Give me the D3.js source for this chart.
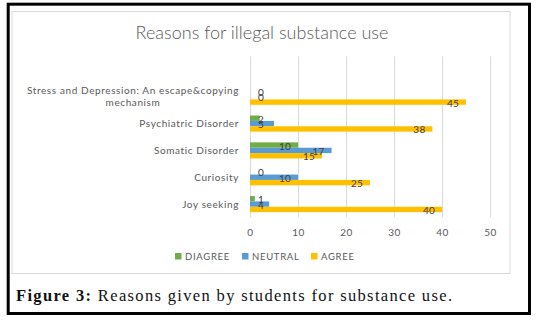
<!DOCTYPE html>
<html>
<head>
<meta charset="utf-8">
<script src="https://cdn.jsdelivr.net/npm/d3@7"></script>
<style>
  html, body { margin: 0; padding: 0; background: #fff; }
  svg { display: block; }
</style>
</head>
<body>
<svg id="chart" width="538" height="321"></svg>
<script>
// ---- data ----
const categories = [
  "Stress and Depression: An escape&copying mechanism",
  "Psychiatric Disorder",
  "Somatic Disorder",
  "Curiosity",
  "Joy seeking"
];
const seriesNames = ["DIAGREE", "NEUTRAL", "AGREE"];
const diagree = [0, 2, 10, 0, 1];
const neutral = [0, 5, 17, 10, 4];
const agree   = [45, 38, 15, 25, 40];
const xTicks  = [0, 10, 20, 30, 40, 50];
const colors  = ["#70AD47", "#5B9BD5", "#FFC000"];
const title   = "Reasons for illegal substance use";

const seriesValues = [diagree, neutral, agree];

// ---- drawing ----
const svg = d3.select("#chart");
const W = 538, H = 321;
svg.append("rect").attr("width", W).attr("height", H).attr("fill", "#fff");

// outer figure frame
svg.append("rect")
  .attr("x", 8.2).attr("y", 4.2).attr("width", 521.3).attr("height", 309.3)
  .attr("fill", "none").attr("stroke", "#000").attr("stroke-width", 3);

// chart area frame
svg.append("rect")
  .attr("x", 12).attr("y", 11.5).attr("width", 498).attr("height", 262)
  .attr("fill", "#fff").attr("stroke", "#d9d9d9").attr("stroke-width", 1);

// title
svg.append("text")
  .attr("x", 262).attr("y", 39)
  .attr("text-anchor", "middle")
  .attr("font-family", "Lato, 'Open Sans', sans-serif")
  .attr("font-weight", 300)
  .attr("font-size", 18)
  .attr("fill", "#595959")
  .text(title);

const plot = { left: 250, right: 490, top: 56.5, bottom: 217.5 };

const x = d3.scaleLinear().domain([0, 50]).range([plot.left, plot.right]);

// an empty slot on top of the category axis, as in the reference
const yDomain = ["__blank__", ...categories];
const y = d3.scaleBand().domain(yDomain)
  .range([plot.top, plot.bottom])
  .paddingInner(0.4).paddingOuter(0.2);
const ySub = d3.scaleBand().domain(seriesNames).range([0, y.bandwidth()]);

// gridlines
svg.append("g").selectAll("line").data(xTicks).join("line")
  .attr("x1", d => x(d) + 0.5).attr("x2", d => x(d) + 0.5)
  .attr("y1", plot.top).attr("y2", plot.bottom)
  .attr("stroke", "#d9d9d9").attr("stroke-width", 1);

// x tick labels
const xAxis = d3.axisBottom(x).tickValues(xTicks).tickSize(0).tickPadding(0);
const gx = svg.append("g").attr("transform", `translate(0,${plot.bottom + 11})`).call(xAxis);
gx.select(".domain").remove();
gx.selectAll("text")
  .attr("font-family", "Lato, 'Open Sans', sans-serif")
  .attr("font-size", 10)
  .attr("letter-spacing", 0.5)
  .attr("fill", "#595959");

// bars
const rows = [];
categories.forEach((c, i) => {
  seriesNames.forEach((s, j) => {
    rows.push({ cat: c, series: s, value: seriesValues[j][i], color: colors[j] });
  });
});

svg.append("g").selectAll("rect").data(rows).join("rect")
  .attr("x", x(0))
  .attr("y", d => y(d.cat) + ySub(d.series))
  .attr("width", d => x(d.value) - x(0))
  .attr("height", ySub.bandwidth())
  .attr("fill", d => d.color);

// data labels
svg.append("g").selectAll("text").data(rows).join("text")
  .attr("x", d => Math.max(x(d.value) - 13, x(0) + 11))
  .attr("y", d => y(d.cat) + ySub(d.series) + ySub.bandwidth() / 2 + 1)
  .attr("dy", "0.35em")
  .attr("text-anchor", "middle")
  .attr("font-family", "Lato, 'Open Sans', sans-serif")
  .attr("font-size", 10)
  .attr("letter-spacing", 0.3)
  .attr("fill", "#404040")
  .text(d => d.value);

// category labels (wrapped)
const labelRight = 239;
const maxLabelWidth = 225;
const catG = svg.append("g");
categories.forEach(c => {
  const cy = y(c) + y.bandwidth() / 2;
  const t = catG.append("text")
    .attr("font-family", "Lato, 'Open Sans', sans-serif")
    .attr("font-size", 10)
    .attr("letter-spacing", 0.6)
    .attr("fill", "#595959");
  // wrap words
  const words = c.split(" ");
  const lines = [];
  let cur = "";
  const probe = t.append("tspan");
  words.forEach(w => {
    const test = cur ? cur + " " + w : w;
    probe.text(test);
    if (probe.node().getComputedTextLength() > maxLabelWidth && cur) {
      lines.push(cur); cur = w;
    } else cur = test;
  });
  lines.push(cur);
  probe.remove();
  const lh = 12.4;
  const widths = lines.map(l => {
    const p = t.append("tspan").text(l);
    const w = p.node().getComputedTextLength();
    p.remove();
    return w;
  });
  const blockW = Math.max(...widths);
  const centerX = labelRight - blockW / 2;
  lines.forEach((l, k) => {
    t.append("tspan")
      .attr("x", centerX)
      .attr("y", cy + (k - (lines.length - 1) / 2) * lh)
      .attr("dy", "0.35em")
      .attr("text-anchor", "middle")
      .text(l);
  });
});

// legend
const legend = svg.append("g");
const legendX = [175, 242, 311];
seriesNames.forEach((s, j) => {
  legend.append("rect")
    .attr("x", legendX[j]).attr("y", 253)
    .attr("width", 6.5).attr("height", 6.5)
    .attr("fill", colors[j]);
  legend.append("text")
    .attr("x", legendX[j] + 10).attr("y", 256.3)
    .attr("dy", "0.35em")
    .attr("font-family", "Lato, 'Open Sans', sans-serif")
    .attr("font-size", 9.5)
    .attr("letter-spacing", 0.7)
    .attr("fill", "#595959")
    .text(s);
});

// caption
const cap = svg.append("text")
  .attr("x", 16).attr("y", 300.5)
  .attr("font-family", "'Liberation Serif', 'DejaVu Serif', serif")
  .attr("font-size", 16.5)
  .attr("fill", "#111");
cap.append("tspan").attr("font-weight", "bold").text("Figure 3:");
cap.append("tspan").text(" Reasons given by students for substance use.");
cap.attr("textLength", 436).attr("lengthAdjust", "spacing");
</script>
</body>
</html>
